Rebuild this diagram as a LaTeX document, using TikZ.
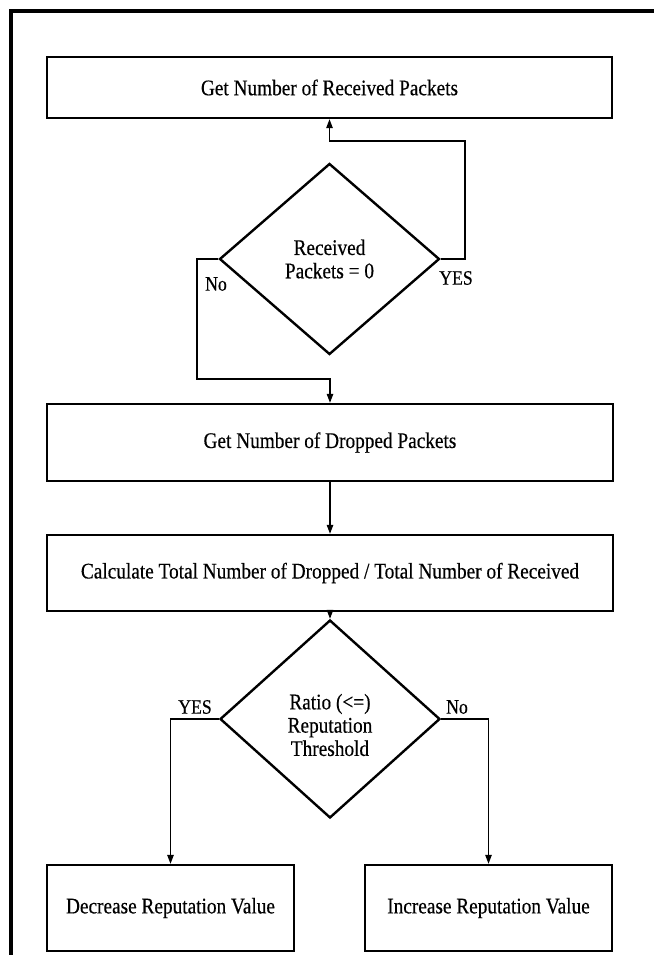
\documentclass[tikz,border=0pt]{standalone}
\usepackage{fontspec}
\setmainfont{Liberation Serif}[FakeStretch=0.865,FakeBold=0.4]
\usetikzlibrary{shapes.geometric,arrows.meta}

\tikzset{
  procbox/.style={draw=black, line width=2.4pt, rectangle, inner sep=0pt,
    font=\fontsize{22.3pt}{23.3pt}\selectfont, text=black},
  decision/.style={draw=black, line width=2.4pt, diamond, inner sep=0pt,
    align=center, font=\fontsize{22.3pt}{23.3pt}\selectfont, text=black},
  conn/.style={draw=black, line width=1.2pt,
    -{Triangle[length=9pt,width=6.5pt]}},
  tag/.style={inner sep=0pt, font=\fontsize{20.5pt}{22pt}\selectfont, text=black},
  frameline/.style={draw=black, line width=3.4pt}
}

\begin{document}
\begin{tikzpicture}[x=1pt,y=-1pt]
  \useasboundingbox (0,0) rectangle (654,955);

  % outer frame (open to the right and bottom)
  \draw[frameline] (11,955) -- (11,11) -- (654,11);

  % process boxes
  \node[procbox, minimum width=565pt, minimum height=61pt] (b1) at (329.5,87.5)
    {Get Number of Received Packets};
  \node[procbox, minimum width=566pt, minimum height=77pt] (b2) at (330,442.5)
    {Get Number of Dropped Packets};
  \node[procbox, minimum width=566pt, minimum height=76pt] (b3) at (330,573)
    {Calculate Total Number of Dropped / Total Number of Received};
  \node[procbox, minimum width=247pt, minimum height=86pt] (b4) at (170.5,908)
    {Decrease Reputation Value};
  \node[procbox, minimum width=247pt, minimum height=86pt] (b5) at (488.5,908)
    {Increase Reputation Value};

  % decisions
  \node[decision, minimum width=220pt, minimum height=191pt] (d1) at (329.5,259)
    {Received\\Packets = 0};
  \node[decision, minimum width=220pt, minimum height=198pt] (d2) at (330,719)
    {};
  \node[align=center, inner sep=0pt, font=\fontsize{22.3pt}{23.3pt}\selectfont]
    (d2text) at (330,725) {Ratio (<=)\\Reputation\\Threshold};

  % bend points of the loop-back and bypass connectors
  \coordinate (yesTurn) at (465,141);
  \coordinate (noTurn) at (197,379);

  % connectors
  \draw[conn] (d1.east) -| (yesTurn) -| (b1.south);
  \draw[conn] (d1.west) -| (noTurn) -| (b2.north);
  \draw[conn] (b2.south) -- (b3.north);
  \draw[conn] (b3.south) -- (d2.north);
  \draw[conn] (d2.west) -| (b4.north);
  \draw[conn] (d2.east) -| (b5.north);

  % branch labels
  \node[tag] (l1yes) at (456,278) {YES};
  \node[tag] (l1no) at (216,284) {No};
  \node[tag] (l2yes) at (195,707) {YES};
  \node[tag] (l2no) at (457,707) {No};
\end{tikzpicture}
\end{document}
